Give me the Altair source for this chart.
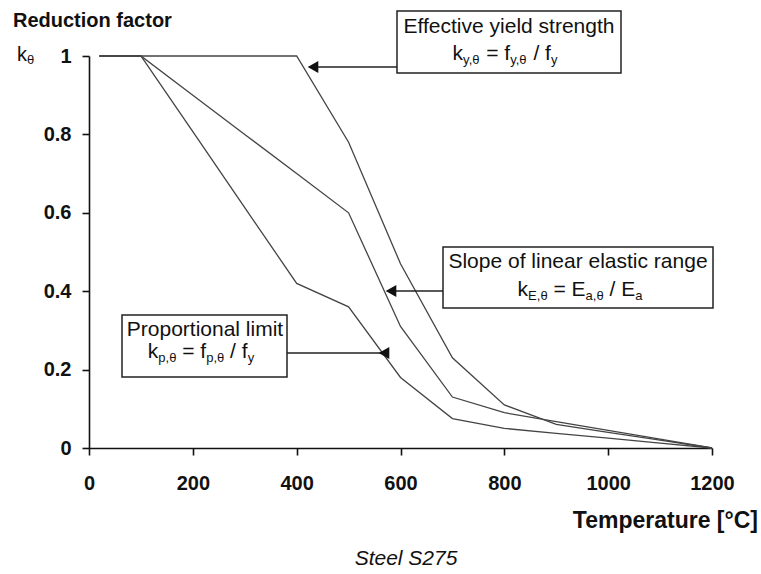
import altair as alt
import pandas as pd

# ---- data (EN 1993-1-2 reduction factors) ----
temps = [20, 100, 200, 300, 400, 500, 600, 700, 800, 900, 1000, 1100, 1200]
k_y = [1.0, 1.0, 1.0, 1.0, 1.0, 0.78, 0.47, 0.23, 0.11, 0.06, 0.04, 0.02, 0.0]
k_p = [1.0, 1.0, 0.807, 0.613, 0.42, 0.36, 0.18, 0.075, 0.05, 0.0375, 0.025, 0.0125, 0.0]
k_E = [1.0, 1.0, 0.9, 0.8, 0.7, 0.6, 0.31, 0.13, 0.09, 0.0675, 0.045, 0.0225, 0.0]
x_ticks = [0, 200, 400, 600, 800, 1000, 1200]
y_ticks = [0, 0.2, 0.4, 0.6, 0.8, 1.0]

rows = []
for name, vals in [("ky", k_y), ("kp", k_p), ("kE", k_E)]:
    for t, v in zip(temps, vals):
        rows.append({"series": name, "T": t, "k": v})
df = pd.DataFrame(rows)

FONT = "Liberation Sans"
INK = "#111111"
MAIN = 21
SUB = 13
one = pd.DataFrame({"a": [0]})

# advance widths (em) of Liberation Sans regular for the glyphs used in the formulas
W = {"k": .5, "y": .5, ",": .278, "θ": .556, " ": .278, "=": .584, "f": .278,
     "/": .278, "E": .667, "a": .556, "p": .556}

lines = alt.Chart(df).mark_line(color="#444444", strokeWidth=1.3).encode(
    x=alt.X("T:Q", scale=alt.Scale(domain=[0, 1200], nice=False, zero=False),
            axis=alt.Axis(values=x_ticks, format="d", title=None, labelPadding=18,
                          labelFlush=False)),
    y=alt.Y("k:Q", scale=alt.Scale(domain=[0, 1], nice=False),
            axis=alt.Axis(values=y_ticks, format="~g", title=None, labelPadding=11,
                          labelFlush=False)),
    detail="series:N",
)


def txt(s, x, y, size=MAIN, weight="normal", style="normal", align="left"):
    return alt.Chart(one).mark_text(
        text=s, font=FONT, fontSize=size, fontWeight=weight, fontStyle=style,
        align=align, baseline="alphabetic", color=INK,
    ).encode(x=alt.value(x), y=alt.value(y))


def formula(segments, cx, y):
    """segments: list of (text, is_subscript); laid out left to right, centred on cx."""
    widths = []
    for s, sub in segments:
        size = SUB if sub else MAIN
        widths.append(sum(W[c] for c in s) * size)
    x = cx - sum(widths) / 2
    out = []
    for (s, sub), w in zip(segments, widths):
        size = SUB if sub else MAIN
        lead = len(s) - len(s.lstrip(" "))
        out.append(txt(s.lstrip(" "), x + lead * W[" "] * size, y + (4 if sub else 0), size=size))
        x += w
    return out


def box(x1, x2, y1, y2):
    return alt.Chart(one).mark_rect(fill="white", stroke="#222222", strokeWidth=1.5).encode(
        x=alt.value(x1), x2=alt.value(x2), y=alt.value(y1), y2=alt.value(y2))


def arrow(x_from, x_tip, y):
    shaft = alt.Chart(one).mark_rule(color="#222222", strokeWidth=1.5).encode(
        x=alt.value(x_from), x2=alt.value(x_tip + 6), y=alt.value(y))
    head = alt.Chart(one).mark_point(shape="triangle-left", filled=True, size=150,
                                     color=INK, opacity=1).encode(
        x=alt.value(x_tip + 6), y=alt.value(y))
    return [shaft, head]


layers = [lines]

# Box 1: effective yield strength
layers += arrow(308, 218, 11)
layers.append(box(308, 532, -45, 17))
layers.append(txt("Effective yield strength", 420, -23, align="center"))
layers += formula([("k", 0), ("y,θ", 1), (" = f", 0), ("y,θ", 1), (" / f", 0), ("y", 1)], 416, 4)

# Box 2: slope of linear elastic range
layers += arrow(354, 296, 235)
layers.append(box(354, 624, 191, 252))
layers.append(txt("Slope of linear elastic range", 489, 212, align="center"))
layers += formula([("k", 0), ("E,θ", 1), (" = E", 0), ("a,θ", 1), (" / E", 0), ("a", 1)], 491, 240)

# Box 3: proportional limit
layers += arrow(193, 289, 297)
layers.append(box(33, 198, 259, 321))
layers.append(txt("Proportional limit", 116, 280, align="center"))
layers += formula([("k", 0), ("p,θ", 1), (" = f", 0), ("p,θ", 1), (" / f", 0), ("y", 1)], 112, 302)

# Axis captions
layers.append(txt("Reduction factor", -76, -29, size=20, weight="bold"))
layers.append(txt("k", -72, 5, size=20))
layers.append(txt("θ", -62, 8, size=SUB))
layers.append(txt("Temperature [°C]", 669, 472, size=23, weight="bold", align="right"))
layers.append(txt("Steel S275", 317, 509, size=21, style="italic", align="center"))

chart = alt.layer(*layers).properties(
    width=623, height=392,
    autosize=alt.AutoSizeParams(type="none"),
    padding={"left": 89, "top": 56, "right": 49, "bottom": 126},
    background="white",
).configure_view(stroke=None).configure_axis(
    grid=False,
    domainColor="#111111", domainWidth=1.6,
    tickColor="#111111", tickWidth=1.6, tickSize=7,
    labelFont=FONT, labelFontSize=20, labelFontWeight="bold", labelColor=INK,
)

chart.save("out.html", embed_options={"renderer": "svg", "actions": False})
